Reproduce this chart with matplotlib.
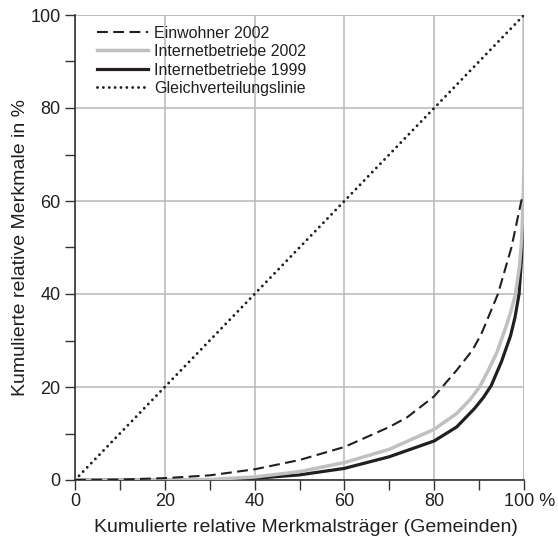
import matplotlib
matplotlib.use("Agg")
import matplotlib.pyplot as plt
import matplotlib.transforms as mtransforms
import numpy as np

plt.rcParams['font.family'] = ['Liberation Sans', 'DejaVu Sans']

# Data
ew_x = [0, 10, 20, 30, 40, 50, 60, 70, 74, 80, 85, 88.5, 90.5, 94.2, 97.2, 99.4, 99.7]
ew_y = [0, 0.1, 0.4, 1.0, 2.3, 4.3, 7.1, 11.4, 13.5, 18, 23.6, 27.9, 31.4, 40, 50, 60, 61]

ib02_x = [0, 20, 30, 40, 50, 60, 70, 80, 85, 88, 90.1, 92, 94, 96, 97, 98.1, 99, 99.5, 99.8, 100, 100]
ib02_y = [0, 0.05, 0.1, 0.65, 1.8, 3.75, 6.6, 10.9, 14.3, 17.3, 20, 23.5, 27.5, 33, 36, 40, 46, 52, 60, 68, 100]

ib99_x = [0, 30, 40, 50, 60, 70, 80, 85, 89, 91, 92.7, 95, 97, 98, 98.9, 99.4, 99.7, 99.9, 100]
ib99_y = [0, 0.05, 0.36, 1.1, 2.5, 5, 8.4, 11.4, 15.4, 17.8, 20.3, 25.5, 31, 35, 40, 47, 54, 60, 66]

gl_x = [0, 100]
gl_y = [0, 100]

labels = ["Einwohner 2002", "Internetbetriebe 2002", "Internetbetriebe 1999", "Gleichverteilungslinie"]
x_ticklabels = ["0", "20", "40", "60", "80", "100 %"]
y_ticklabels = ["0", "20", "40", "60", "80", "100"]

W, H = 558, 542
fig = plt.figure(figsize=(W/100, H/100), dpi=100)
L, R, T, B = 75, 524, 15, 480
ax = fig.add_axes([L/W, (H-B)/H, (R-L)/W, (B-T)/H])

dark = "#231f20"
grid = "#b8b8b8"
ax.plot(ew_x, ew_y, color=dark, lw=1.5, dashes=(5.2, 2.6), label=labels[0], zorder=4)
ax.plot(ib02_x, ib02_y, color="#c0c0c0", lw=2.5, label=labels[1], zorder=3,
        solid_joinstyle='round')
ax.plot(ib99_x, ib99_y, color=dark, lw=2.3, label=labels[2], zorder=2,
        solid_joinstyle='round')
ax.plot(gl_x, gl_y, color=dark, lw=2.1, dashes=(0.01, 2.0), dash_capstyle='round',
        label=labels[3], zorder=4)

ax.set_xlim(0, 100)
ax.set_ylim(0, 100)
ax.set_xticks(np.arange(0, 101, 20))
ax.set_xticks(np.arange(10, 101, 20), minor=True)
ax.set_yticks(np.arange(0, 101, 20))
ax.set_yticks(np.arange(10, 101, 20), minor=True)
ax.set_xticklabels(x_ticklabels)
ax.set_yticklabels(y_ticklabels)

ax.grid(True, which='major', color=grid, lw=1.1)
ax.set_axisbelow(True)
for s in ['top', 'right']:
    ax.spines[s].set_visible(False)
for s in ['left', 'bottom']:
    ax.spines[s].set_color("#333333")
    ax.spines[s].set_linewidth(1.2)
ax.axhline(100, color=grid, lw=1.1, zorder=0.5)
ax.axvline(100, color=grid, lw=1.1, zorder=0.5)

ax.tick_params(which='both', direction='out', color="#333333", width=1.0, length=7.5,
               labelsize=13, labelcolor=dark)
ax.tick_params(axis='x', pad=2)
ax.tick_params(axis='y', pad=3)

# shift "100 %" so that "100" sits on the tick
lbl = ax.get_xticklabels()[-1]
lbl.set_transform(lbl.get_transform() + mtransforms.ScaledTranslation(5.5/100, 0, fig.dpi_scale_trans))

ax.set_xlabel("Kumulierte relative Merkmalsträger (Gemeinden)", fontsize=14, color=dark)
ax.set_ylabel("Kumulierte relative Merkmale in %", fontsize=14, color=dark)
ax.xaxis.set_label_coords((305.5-L)/(R-L), (B-519)/(B-T))
ax.yaxis.set_label_coords((29-L)/(R-L), 0.5)

leg = ax.legend(loc='upper left', bbox_to_anchor=(22/(R-L), (B-25.5)/(B-T)), frameon=False,
                fontsize=11.5, handlelength=3.2, handletextpad=0.38, labelspacing=0.22,
                borderaxespad=0, borderpad=0)
for t in leg.get_texts():
    t.set_color(dark)

fig.savefig("out.png", dpi=100, facecolor="white")
